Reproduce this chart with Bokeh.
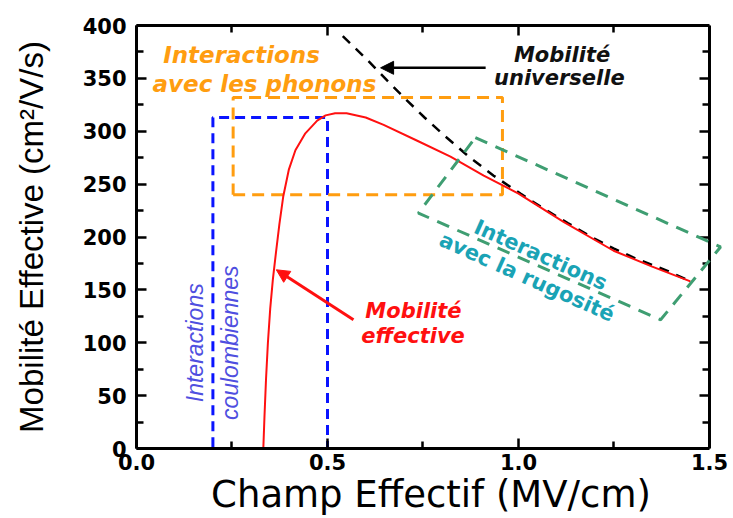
from bokeh.plotting import figure
from bokeh.models import (LinearAxis, FixedTicker, Arrow, NormalHead, PolyAnnotation,
                          Range1d, Label)
from bokeh.embed import file_html
from bokeh.resources import INLINE

# Effective mobility curve (MV/cm, cm2/V/s)
field_eff = [0.332, 0.335, 0.339, 0.344, 0.350, 0.357, 0.365, 0.374, 0.384, 0.399,
             0.416, 0.442, 0.473, 0.495, 0.52, 0.55, 0.60, 0.647, 0.735, 0.822,
             0.909, 1.00, 1.119, 1.249, 1.35, 1.45]
mob_eff = [0, 30, 65, 100, 132, 160, 185, 212, 238, 264,
           282, 298, 310, 315, 317, 317, 313, 306, 291, 276,
           258, 241, 214, 187, 172, 158]

# Universal mobility curve
field_univ = [0.54, 0.60, 0.656, 0.70, 0.754, 0.809, 0.87, 0.935, 1.005, 1.065,
              1.13, 1.196, 1.25, 1.311, 1.39, 1.45]
mob_univ = [390, 369, 348, 332, 313, 295, 276, 258, 241, 227,
            213, 199, 189, 179, 168, 158]

# Scattering regimes (rectangles)
coulomb_x = [0.2, 0.5, 0.5, 0.2, 0.2]
coulomb_y = [0, 0, 313, 313, 0]
phonon_x = [0.253, 0.958, 0.958, 0.253, 0.253]
phonon_y = [240, 240, 332, 332, 240]
rough_x = [0.887, 1.529, 1.372, 0.738]
rough_y = [294, 190.6, 121.7, 222.6]

x_ticks = [0.0, 0.5, 1.0, 1.5]
x_tick_labels = ["0.0", "0.5", "1.0", "1.5"]
x_minor = [0.25, 0.75, 1.25]
y_ticks = [0, 50, 100, 150, 200, 250, 300, 350, 400]
y_minor = [25, 75, 125, 175, 225, 275, 325, 375]

X_MAX = 1.5
FONT = "DejaVu Sans"

# The frame reaches a little past x = 1.5 so the roughness box can stick out
# of the axes box; the right spine is an axis pinned at x = 1.5.
p = figure(width=733, height=518, output_backend="svg", toolbar_location=None,
           x_range=Range1d(0, 1.5419), y_range=Range1d(0, 400),
           min_border_left=136, min_border_right=8, min_border_top=25,
           min_border_bottom=69, background_fill_color="white",
           border_fill_color="white")
p.grid.visible = False
p.outline_line_color = None

xt = FixedTicker(ticks=x_ticks, minor_ticks=x_minor)
yt = FixedTicker(ticks=y_ticks, minor_ticks=y_minor)


def style_axis(ax, ticker):
    ax.ticker = ticker
    ax.axis_line_width = 3
    ax.axis_line_color = "black"
    ax.major_tick_in = 10
    ax.major_tick_out = 0
    ax.minor_tick_in = 7
    ax.minor_tick_out = 0
    ax.major_tick_line_width = 2.5
    ax.minor_tick_line_width = 2.5
    ax.major_label_text_font = FONT
    ax.major_label_text_font_style = "bold"
    ax.major_label_text_font_size = "21px"
    ax.major_label_text_color = "black"
    ax.axis_label_text_font_style = "normal"
    ax.axis_label_text_color = "black"


xa = p.xaxis[0]
style_axis(xa, xt)
xa.bounds = (0, X_MAX)
xa.major_label_overrides = {t: s for t, s in zip(x_ticks, x_tick_labels)}
xa.major_label_standoff = 5
xa.axis_label = "Champ Effectif (MV/cm)"
xa.axis_label_text_font = FONT
xa.axis_label_text_font_size = "37px"
xa.axis_label_standoff = 0

ya = p.yaxis[0]
style_axis(ya, yt)
ya.major_label_standoff = 10
ya.axis_label = "Mobilité Effective (cm²/V/s)"
ya.axis_label_text_font = "Liberation Sans"
ya.axis_label_text_font_size = "33px"
ya.axis_label_standoff = 30

top = LinearAxis()
style_axis(top, xt)
top.bounds = (0, X_MAX)
top.major_label_overrides = {t: "" for t in x_ticks}
top.major_label_standoff = 0
p.add_layout(top, "above")

right = LinearAxis(fixed_location=X_MAX)
style_axis(right, yt)
right.major_label_overrides = {t: "" for t in y_ticks}
right.major_label_standoff = 0
p.add_layout(right, "right")

# Rectangles of the scattering regimes
p.line(coulomb_x, coulomb_y, line_color="#0a14ff", line_width=3, line_dash="10 6")
p.line(phonon_x, phonon_y, line_color="#ff9d10", line_width=3, line_dash="12 7")
p.add_layout(PolyAnnotation(xs=rough_x, ys=rough_y, fill_alpha=0, line_alpha=1.0,
                            line_color="#3f9e72", line_width=3, line_dash="13 9"))

# Curves
p.line(field_univ, mob_univ, line_color="black", line_width=2.5, line_dash="10 8")
p.line(field_eff, mob_eff, line_color="#ff1010", line_width=2)

# Arrows
p.add_layout(Arrow(x_start=0.914, y_start=360, x_end=0.639, y_end=360,
                   line_color="black", line_width=2.5,
                   end=NormalHead(size=13, fill_color="black", line_color="black")))
p.add_layout(Arrow(x_start=0.568, y_start=121.7, x_end=0.366, y_end=169,
                   line_color="#ff1010", line_width=3,
                   end=NormalHead(size=13, fill_color="#ff1010", line_color="#ff1010")))


def label(x, y, text, color, size="21px", style="bold italic", font=FONT, angle=0.0):
    p.add_layout(Label(x=x, y=y, text=text, text_color=color, text_font=font,
                       text_font_size=size, text_font_style=style,
                       text_align="center", text_baseline="middle", angle=angle))


label(0.275, 372, "Interactions", "#ff9d10", size="23px")
label(0.335, 345, "avec les phonons", "#ff9d10", size="23px")
label(1.114, 372, "Mobilité", "#111111")
label(1.107, 350, "universelle", "#111111")
label(0.725, 130, "Mobilité", "#ff1010")
label(0.724, 106, "effective", "#ff1010")
label(0.154, 100, "Interactions", "#4f4fe0", size="23px", style="italic",
      font="Liberation Sans", angle=1.5708)
label(0.246, 100, "coulombiennes", "#4f4fe0", size="23px", style="italic",
      font="Liberation Sans", angle=1.5708)
label(1.058, 183, "Interactions", "#1aa3b5", size="21px", style="bold", angle=-0.42)
label(1.022, 162, "avec la rugosité", "#1aa3b5", size="21px", style="bold", angle=-0.42)

open("out.html", "w").write(file_html(p, INLINE))
